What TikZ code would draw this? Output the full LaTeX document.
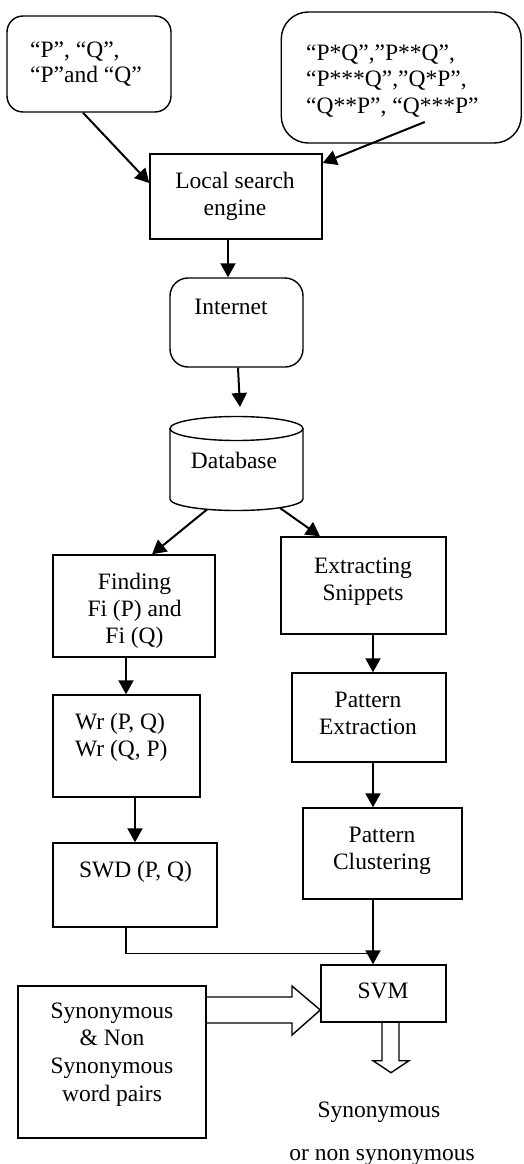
\documentclass[tikz,border=0pt]{standalone}
\usepackage{fontspec}
\setmainfont{Liberation Serif}
\usetikzlibrary{arrows.meta,calc}
\begin{document}
\begin{tikzpicture}[x=1pt,y=-1pt,
  box/.style={draw,line width=1.4pt,inner sep=0pt},
  txt/.style={font=\fontsize{23.5}{27}\selectfont,inner sep=0pt,align=center,anchor=base},
  ltxt/.style={font=\fontsize{23.5}{27}\selectfont,inner sep=0pt,align=left,anchor=base west},
  arr/.style={line width=2pt,-{Triangle[width=15pt,length=14pt]}},
  ln/.style={line width=1.4pt}
]
\useasboundingbox (0,0) rectangle (523,1164);
% boxes
\node[box,rounded corners=16pt,minimum width=164pt,minimum height=96pt] (q1) at (89,64) {};
\node[box,rounded corners=27pt,minimum width=240pt,minimum height=131pt] (q2) at (401.25,77.5) {};
\node[box,minimum width=172pt,minimum height=85pt] (lse) at (236,196.5) {};
\node[box,rounded corners=18pt,minimum width=133pt,minimum height=89pt] (inet) at (236.5,322.5) {};
\node[box,minimum width=162pt,minimum height=102pt] (find) at (134,606) {};
\node[box,minimum width=165pt,minimum height=97pt] (extr) at (363.5,585.5) {};
\node[box,minimum width=147pt,minimum height=102pt] (wr) at (126.5,746) {};
\node[box,minimum width=164pt,minimum height=84pt] (swd) at (135,885) {};
\node[box,minimum width=154pt,minimum height=89pt] (pext) at (369,717.5) {};
\node[box,minimum width=159pt,minimum height=91pt] (pclu) at (382.5,853.5) {};
\node[box,minimum width=125pt,minimum height=57pt] (svm) at (383.5,993.5) {};
\node[box,minimum width=188pt,minimum height=152pt] (syn) at (112,1062) {};
% database cylinder
\coordinate (dbn) at (236.5,416.5);
\coordinate (dbs) at (236.5,510.5);
\draw[ln] (236.5,428.5) ellipse [x radius=66.5, y radius=12];
\draw[ln] (170,428.5) -- (170,499) arc[start angle=180,end angle=360,x radius=66.5,y radius=-11.5] -- (303,428.5);
% texts (anchor = baseline of last line)
\node[ltxt,font=\fontsize{23.5}{25}\selectfont] (t1) at (30,82) {“P”, “Q”,\\“P”and “Q”};
\node[ltxt,font=\fontsize{23.5}{26.5}\selectfont] (t2) at (306,113) {“P*Q”,”P**Q”,\\“P***Q”,”Q*P”,\\“Q**P”, “Q***P”};
\node[txt] (t3) at (235,215) {Local search\\engine};
\node[txt] (t4) at (231,314) {Internet};
\node[txt] (t5) at (234,468) {Database};
\node[txt] (t6) at (134.5,643) {Finding\\Fi (P) and\\Fi (Q)};
\node[txt] (t7) at (363,600) {Extracting\\Snippets};
\node[ltxt] (t8) at (75,756) {Wr (P, Q)\\Wr (Q, P)};
\node[txt] (t9) at (135.5,877) {SWD (P, Q)};
\node[txt] (t10) at (368,734) {Pattern\\Extraction};
\node[txt] (t11) at (382,869) {Pattern\\Clustering};
\node[txt] (t12) at (383,998) {SVM};
\node[txt,font=\fontsize{23.5}{27.6}\selectfont] (t13) at (112,1101) {Synonymous\\\& Non\\Synonymous\\word pairs};
\node[txt] (t14) at (379,1117) {Synonymous};
\node[txt] (t15) at (382,1160) {or non synonymous};
% connectors
\draw[arr] ($(q1.south)+(-6,0)$) -- ($(lse.west)+(0,-13.5)$);
\draw[arr] ($(q2.center)+(23.5,44.5)$) -- ($(lse.east)+(0,-33.5)$);
\draw[arr] ($(lse.south)+(-8,0)$) -- ($(inet.north)+(-8.5,0)$);
\draw[arr] ($(inet.south)+(1.5,0)$) -- ($(dbn)+(3.5,-9.5)$);
\draw[arr] ($(dbs)+(-29.5,-1)$) -- ($(find.north)+(18,0)$);
\draw[arr] ($(dbs)+(43.5,-2.5)$) -- ($(extr.north)+(-43.5,0)$);
\draw[arr] ($(find.south)+(-8,0)$) -- ($(wr.north)+(-0.5,0)$);
\draw[arr] ($(wr.south)+(8.5,0)$) -- (swd.north);
\draw[arr] ($(extr.south)+(9.5,0)$) -- ($(pext.north)+(4,0)$);
\draw[arr] ($(pext.south)+(4,0)$) -- ($(pclu.north)+(-9.5,0)$);
\draw[arr] ($(pclu.south)+(-9.5,0)$) -- ($(svm.north)+(-10.5,0)$);
\draw[ln] ($(swd.south)+(-9,0)$) |- ($(svm.north)+(-10.5,-11)$);
% hollow arrows
\coordinate (ha1) at (0,997);
\coordinate (ha2) at (0,1023);
\coordinate (ha3) at (0,1010);
\draw[ln,line join=miter] (syn.east |- ha1) -- (292,997) -- (292,986) -- (svm.west |- ha3) -- (292,1035) -- (292,1023) -- (syn.east |- ha2);
\draw[ln,line join=miter] ($(svm.south)+(-1.5,0)$) -- ++(0,38) -- ++(-9,0) -- ++(18,12) -- ++(18,-12) -- ++(-10,0) -- ++(0,-38);
\end{tikzpicture}
\end{document}
